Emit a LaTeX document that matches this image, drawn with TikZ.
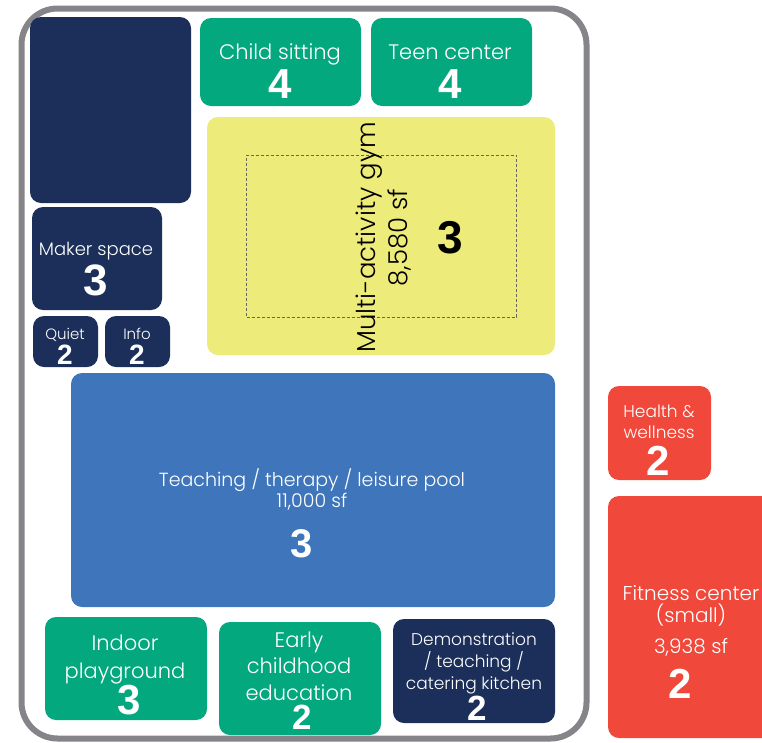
\documentclass[tikz,border=0pt]{standalone}
\usepackage{fontspec}
\setmainfont{Poppins}[UprightFont={* Light}]
\newfontfamily\numfont{Liberation Sans}
\definecolor{navy}{HTML}{1B2F5A}
\definecolor{teal}{HTML}{03A87E}
\definecolor{gymyel}{HTML}{EDEB7A}
\definecolor{poolblue}{HTML}{3F75BB}
\definecolor{redc}{HTML}{F0483B}
\definecolor{framegray}{HTML}{848489}
\tikzset{
  roombox/.style={rectangle, rounded corners=11pt, inner sep=0pt, outer sep=0pt},
  lab/.style={text=white, anchor=base, inner sep=0pt, font=\fontsize{#1}{#1}\selectfont},
  lab/.default=20,
  num/.style={text=white, anchor=base, inner sep=0pt, font=\numfont\bfseries\fontsize{#1}{#1}\selectfont},
  num/.default=42,
}
\newcommand\room[6]{%
  \node[roombox, fill=#2, minimum width={#5pt-#3pt}, minimum height={#6pt-#4pt}]
    (#1) at ({(#3+#5)/2},{(#4+#6)/2}) {};}
\begin{document}
\begin{tikzpicture}[x=1pt,y=-1pt]
\useasboundingbox (0,0) rectangle (762,742);
\clip (0,0) rectangle (762,742);
% frame
\draw[framegray, line width=6pt, rounded corners=36pt] (21.5,8.5) rectangle (586.5,738.5);
% rooms
\room{storage}{navy}{30}{17}{191}{203}
\room{child}{teal}{200}{18}{361}{106}
\room{teen}{teal}{371}{18}{532}{106}
\room{gym}{gymyel}{207}{117}{555}{355}
\room{maker}{navy}{32}{207}{162}{310}
\room{quiet}{navy}{33}{316}{98}{367}
\room{info}{navy}{105}{316}{170}{367}
\room{pool}{poolblue}{71}{373}{555}{607}
\room{indoor}{teal}{45}{617}{207}{720}
\room{early}{teal}{219}{622}{381}{735}
\room{demo}{navy}{393}{619}{555}{723}
\room{health}{redc}{608}{386}{711}{480}
\room{fitness}{redc}{608}{496}{780}{738}
% dashed court
\node[draw=gray!80!black, dash pattern=on 3pt off 2pt, line width=0.8pt, minimum width=270pt, minimum height=162pt, inner sep=0pt] (court) at (381.5,236) {};
% texts
\node[lab=21] (childl) at (280,59) {Child sitting};
\node[num] (childn) at (280,98) {4};
\node[lab=21] (teenl) at (450,59) {Teen center};
\node[num] (teenn) at (450,98) {4};
\node[lab=18] (makerl) at (96,255) {Maker space};
\node[num=44] (makern) at (96,295) {3};
\node[lab=15] (quietl) at (65,339) {Quiet};
\node[num=28] (quietn) at (65,364) {2};
\node[lab=15] (infol) at (137,339) {Info};
\node[num=28] (infon) at (137,364) {2};
\node[lab=26, text=black, rotate=90] (gyml) at (375,237.5) {Multi-activity gym};
\node[lab=26, text=black, rotate=90] (gyms) at (407,237.5) {8,580 sf};
\node[num=46, text=black] (gymn) at (450,253) {3};
\node[lab=19] (pooll) at (312,486) {Teaching / therapy / leisure pool};
\node[lab=19] (pools) at (312,507) {11,000 sf};
\node[num=40] (pooln) at (302,557) {3};
\node[lab=17] (healthl) at (659,417) {Health \&};
\node[lab=17] (healthm) at (659,438) {wellness};
\node[num] (healthn) at (658,475) {2};
\node[lab=20] (fitl) at (691,600) {Fitness center};
\node[lab=20] (fitm) at (691,622) {(small)};
\node[lab=20] (fits) at (691,653) {3,938 sf};
\node[num] (fitn) at (680,698) {2};
\node[lab=21] (indoorl) at (125,650) {Indoor};
\node[lab=21] (indoorm) at (125,678) {playground};
\node[num] (indoorn) at (129.5,714) {3};
\node[lab=21] (earlyl) at (299,647) {Early};
\node[lab=21] (earlym) at (299,673) {childhood};
\node[lab=21] (earlyk) at (299,700) {education};
\node[num=35] (earlyn) at (302,729) {2};
\node[lab=17] (demol) at (474,645) {Demonstration};
\node[lab=17] (demom) at (474,667) {/ teaching /};
\node[lab=17] (demok) at (474,689) {catering kitchen};
\node[num=35] (demon) at (477,720) {2};
\end{tikzpicture}
\end{document}
